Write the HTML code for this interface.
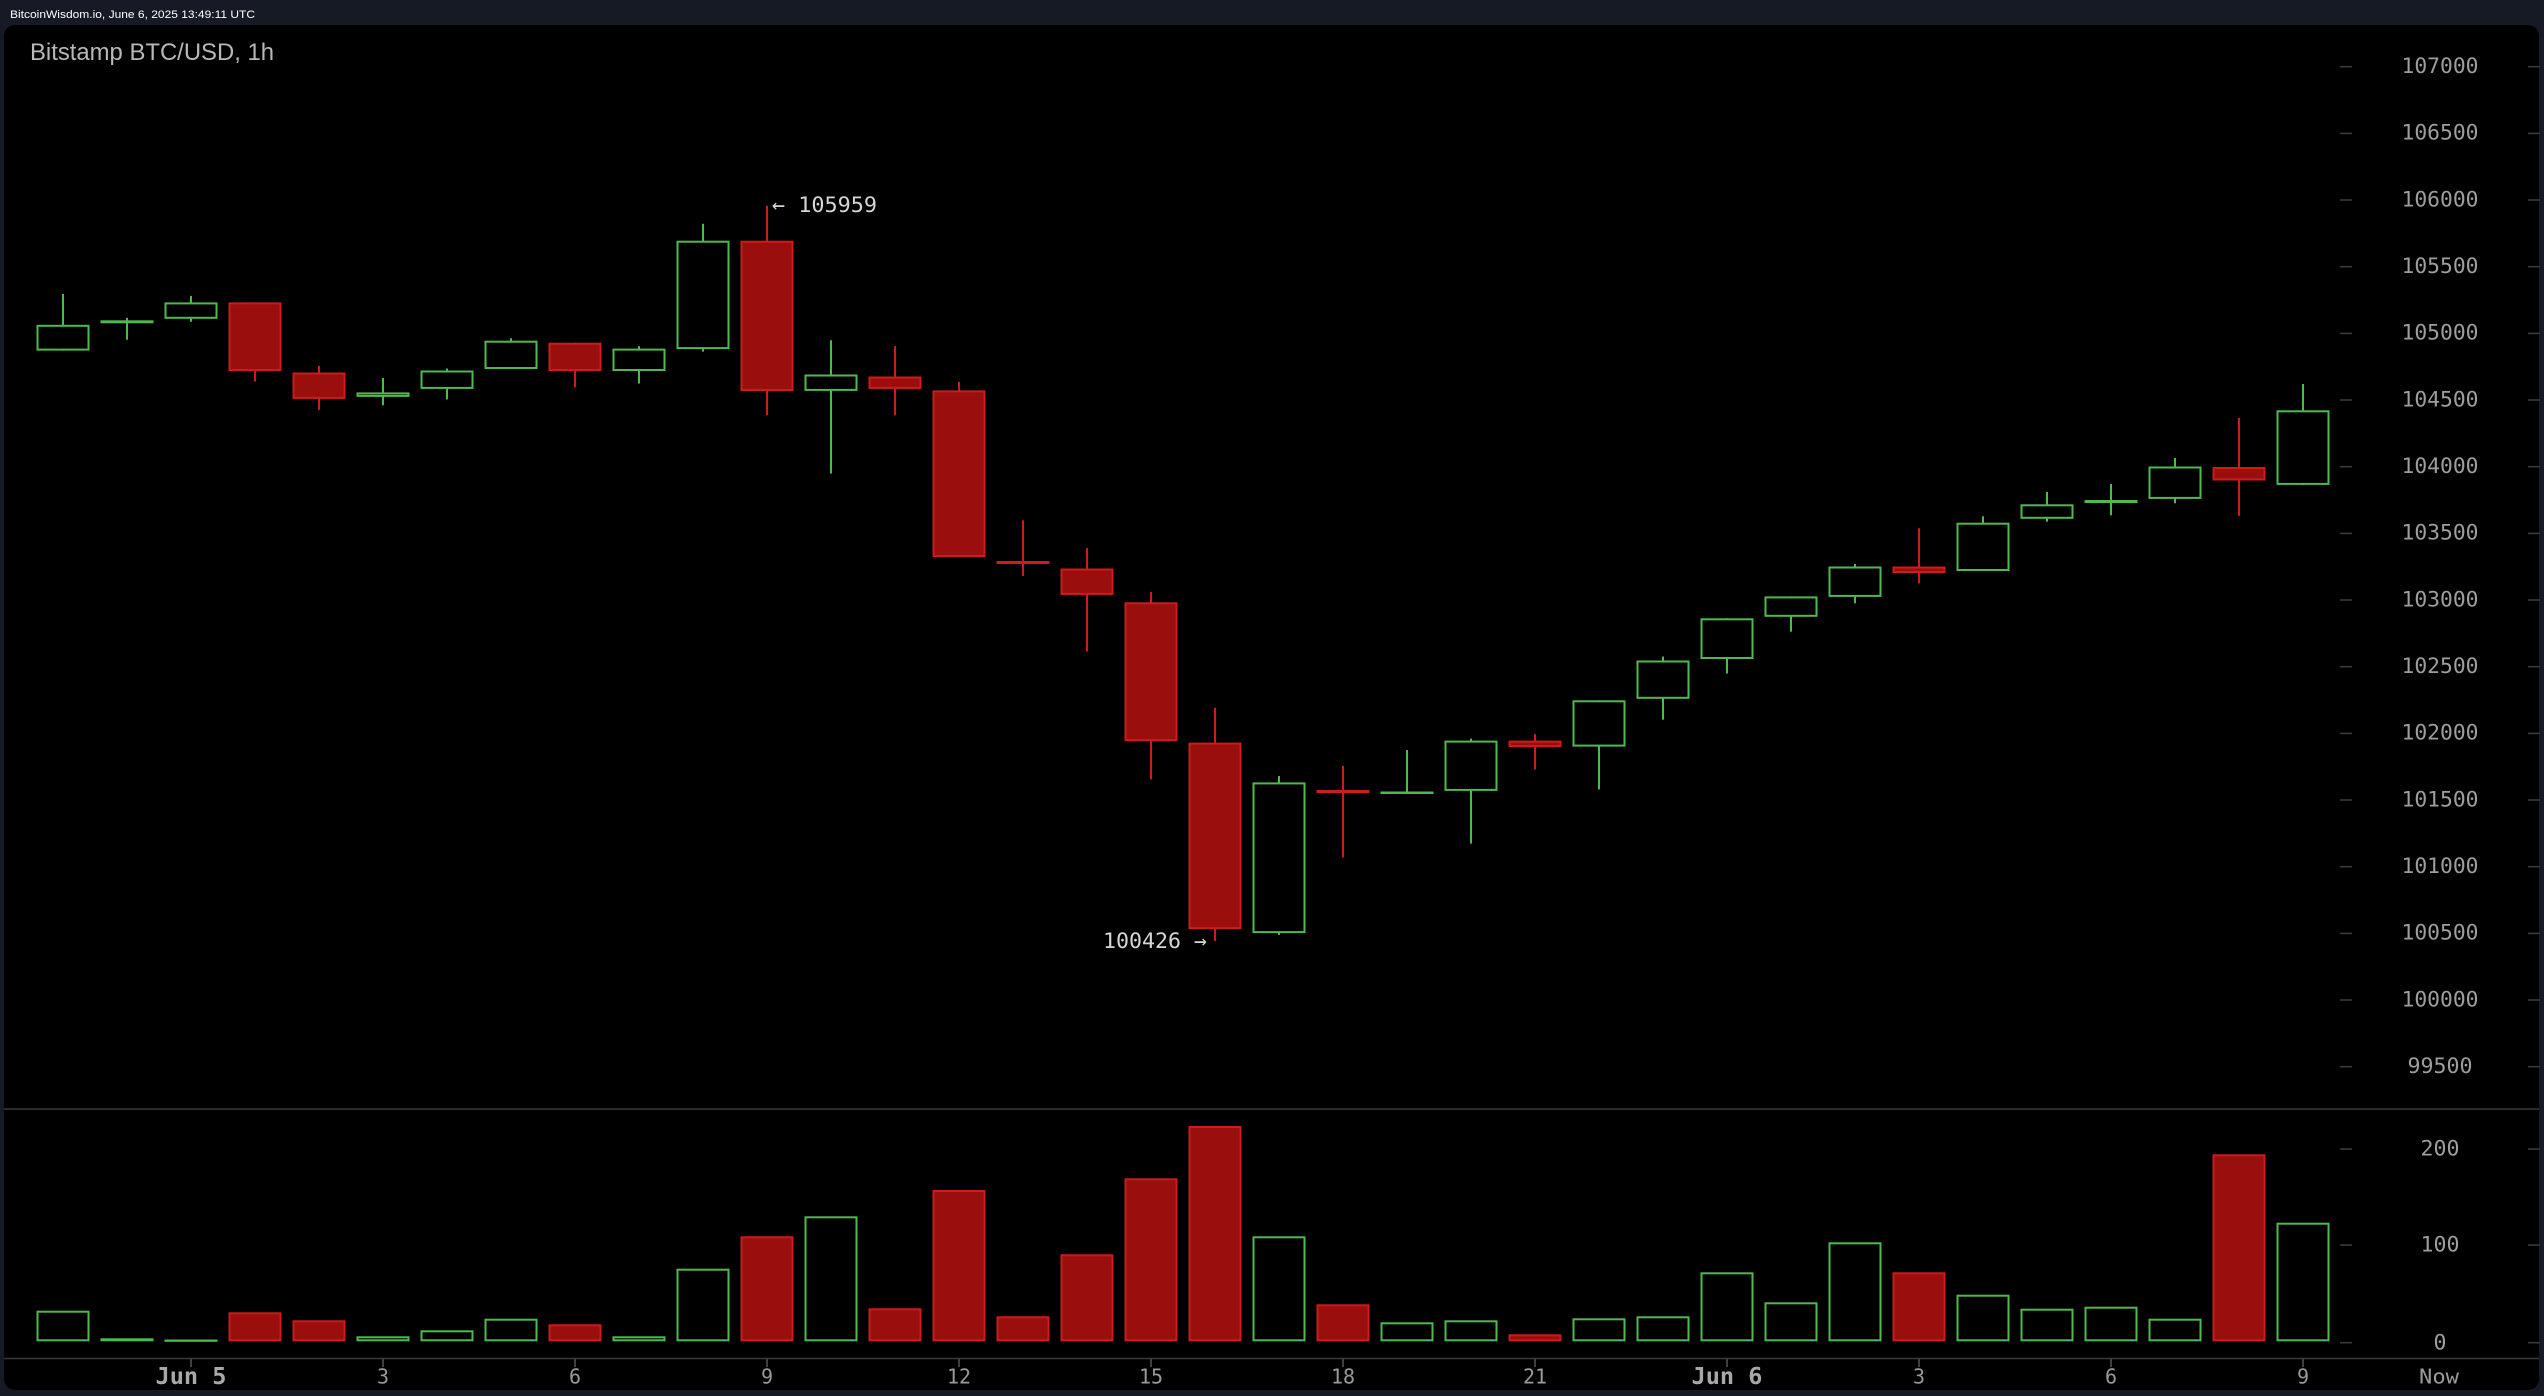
<!DOCTYPE html>
<html><head><meta charset="utf-8"><style>
html,body{margin:0;padding:0;background:#161a24;}
svg{display:block;}
</style></head><body>
<svg width="2544" height="1396" viewBox="0 0 2544 1396" xmlns="http://www.w3.org/2000/svg">
<rect x="0" y="0" width="2544" height="1396" fill="#161a24"/>
<text x="10" y="18" font-family="Liberation Sans, sans-serif" font-size="11" fill="#ffffff" textLength="245" lengthAdjust="spacingAndGlyphs">BitcoinWisdom.io, June 6, 2025 13:49:11 UTC</text>
<rect x="4" y="25" width="2535" height="1365" rx="11" ry="11" fill="#000000"/>
<text x="30" y="60" font-family="Liberation Sans, sans-serif" font-size="24" fill="#b8b8b8" textLength="244" lengthAdjust="spacingAndGlyphs">Bitstamp BTC/USD, 1h</text>

<!-- separators -->
<line x1="4" y1="1109" x2="2539" y2="1109" stroke="#3a3a3a" stroke-width="1.6"/>
<line x1="4" y1="1358.5" x2="2539" y2="1358.5" stroke="#3a3a3a" stroke-width="1.6"/>

<!-- price axis -->
<g stroke="#3d3d3d" stroke-width="1.5">
<line x1="2340" y1="66.7" x2="2352" y2="66.7"/><line x1="2528" y1="66.7" x2="2540" y2="66.7"/>
<line x1="2340" y1="133.4" x2="2352" y2="133.4"/><line x1="2528" y1="133.4" x2="2540" y2="133.4"/>
<line x1="2340" y1="200" x2="2352" y2="200"/><line x1="2528" y1="200" x2="2540" y2="200"/>
<line x1="2340" y1="266.7" x2="2352" y2="266.7"/><line x1="2528" y1="266.7" x2="2540" y2="266.7"/>
<line x1="2340" y1="333.4" x2="2352" y2="333.4"/><line x1="2528" y1="333.4" x2="2540" y2="333.4"/>
<line x1="2340" y1="400" x2="2352" y2="400"/><line x1="2528" y1="400" x2="2540" y2="400"/>
<line x1="2340" y1="466.7" x2="2352" y2="466.7"/><line x1="2528" y1="466.7" x2="2540" y2="466.7"/>
<line x1="2340" y1="533.4" x2="2352" y2="533.4"/><line x1="2528" y1="533.4" x2="2540" y2="533.4"/>
<line x1="2340" y1="600" x2="2352" y2="600"/><line x1="2528" y1="600" x2="2540" y2="600"/>
<line x1="2340" y1="666.7" x2="2352" y2="666.7"/><line x1="2528" y1="666.7" x2="2540" y2="666.7"/>
<line x1="2340" y1="733.4" x2="2352" y2="733.4"/><line x1="2528" y1="733.4" x2="2540" y2="733.4"/>
<line x1="2340" y1="800" x2="2352" y2="800"/><line x1="2528" y1="800" x2="2540" y2="800"/>
<line x1="2340" y1="866.7" x2="2352" y2="866.7"/><line x1="2528" y1="866.7" x2="2540" y2="866.7"/>
<line x1="2340" y1="933.4" x2="2352" y2="933.4"/><line x1="2528" y1="933.4" x2="2540" y2="933.4"/>
<line x1="2340" y1="1000" x2="2352" y2="1000"/><line x1="2528" y1="1000" x2="2540" y2="1000"/>
<line x1="2340" y1="1066.7" x2="2352" y2="1066.7"/><line x1="2528" y1="1066.7" x2="2540" y2="1066.7"/>
<line x1="2340" y1="1149" x2="2352" y2="1149"/><line x1="2528" y1="1149" x2="2540" y2="1149"/>
<line x1="2340" y1="1245" x2="2352" y2="1245"/><line x1="2528" y1="1245" x2="2540" y2="1245"/>
<line x1="2340" y1="1342.7" x2="2352" y2="1342.7"/><line x1="2528" y1="1342.7" x2="2540" y2="1342.7"/>
</g>
<g font-family="DejaVu Sans Mono, Liberation Mono, monospace" font-size="21.5" fill="#9e9e9e" text-anchor="middle">
<text x="2440" y="73" textLength="77" lengthAdjust="spacingAndGlyphs">107000</text>
<text x="2440" y="139.7" textLength="77" lengthAdjust="spacingAndGlyphs">106500</text>
<text x="2440" y="206.3" textLength="77" lengthAdjust="spacingAndGlyphs">106000</text>
<text x="2440" y="273" textLength="77" lengthAdjust="spacingAndGlyphs">105500</text>
<text x="2440" y="339.7" textLength="77" lengthAdjust="spacingAndGlyphs">105000</text>
<text x="2440" y="406.3" textLength="77" lengthAdjust="spacingAndGlyphs">104500</text>
<text x="2440" y="473" textLength="77" lengthAdjust="spacingAndGlyphs">104000</text>
<text x="2440" y="539.7" textLength="77" lengthAdjust="spacingAndGlyphs">103500</text>
<text x="2440" y="606.3" textLength="77" lengthAdjust="spacingAndGlyphs">103000</text>
<text x="2440" y="673" textLength="77" lengthAdjust="spacingAndGlyphs">102500</text>
<text x="2440" y="739.7" textLength="77" lengthAdjust="spacingAndGlyphs">102000</text>
<text x="2440" y="806.3" textLength="77" lengthAdjust="spacingAndGlyphs">101500</text>
<text x="2440" y="873" textLength="77" lengthAdjust="spacingAndGlyphs">101000</text>
<text x="2440" y="939.7" textLength="77" lengthAdjust="spacingAndGlyphs">100500</text>
<text x="2440" y="1006.3" textLength="77" lengthAdjust="spacingAndGlyphs">100000</text>
<text x="2440" y="1073" textLength="65" lengthAdjust="spacingAndGlyphs">99500</text>
<text x="2440" y="1155.5" textLength="39" lengthAdjust="spacingAndGlyphs">200</text>
<text x="2440" y="1251.5" textLength="39" lengthAdjust="spacingAndGlyphs">100</text>
<text x="2440" y="1349.5">0</text>
</g>

<!-- annotations -->
<g font-family="DejaVu Sans Mono, Liberation Mono, monospace" font-size="21.5" fill="#d6d6d6">
<text x="772" y="212" textLength="105" lengthAdjust="spacingAndGlyphs">← 105959</text>
<text x="1103" y="948" textLength="104" lengthAdjust="spacingAndGlyphs">100426 →</text>
</g>

<!-- candles -->
<g stroke-width="2">
<!-- 0 -->
<line x1="63" y1="293.9" x2="63" y2="350.6" stroke="#50b84f"/><rect x="37.5" y="325.8" width="51" height="23.8" fill="#000" stroke="#50b84f"/>
<!-- 1 -->
<line x1="127" y1="317.8" x2="127" y2="339.7" stroke="#50b84f"/><rect x="101.5" y="321.3" width="51" height="1" fill="#50b84f" stroke="#50b84f"/>
<!-- 2 -->
<line x1="191" y1="295.9" x2="191" y2="321.8" stroke="#50b84f"/><rect x="165.5" y="303.4" width="51" height="14.4" fill="#000" stroke="#50b84f"/>
<!-- 3 -->
<line x1="255" y1="302.4" x2="255" y2="381.5" stroke="#cc1c1c"/><rect x="229.5" y="303.4" width="51" height="66.6" fill="#9a0e0e" stroke="#cc1c1c"/>
<!-- 4 -->
<line x1="319" y1="366" x2="319" y2="409.8" stroke="#cc1c1c"/><rect x="293.5" y="373.5" width="51" height="24.4" fill="#9a0e0e" stroke="#cc1c1c"/>
<!-- 5 -->
<line x1="383" y1="378" x2="383" y2="405.3" stroke="#50b84f"/><rect x="357.5" y="393.4" width="51" height="2.5" fill="#000" stroke="#50b84f"/>
<!-- 6 -->
<line x1="447" y1="368.5" x2="447" y2="399.4" stroke="#50b84f"/><rect x="421.5" y="371.5" width="51" height="16.4" fill="#000" stroke="#50b84f"/>
<!-- 7 -->
<line x1="511" y1="338.2" x2="511" y2="369" stroke="#50b84f"/><rect x="485.5" y="341.7" width="51" height="26.3" fill="#000" stroke="#50b84f"/>
<!-- 8 -->
<line x1="575" y1="342.7" x2="575" y2="387.4" stroke="#cc1c1c"/><rect x="549.5" y="343.7" width="51" height="26.3" fill="#9a0e0e" stroke="#cc1c1c"/>
<!-- 9 -->
<line x1="639" y1="346.1" x2="639" y2="383.5" stroke="#50b84f"/><rect x="613.5" y="349.6" width="51" height="20.4" fill="#000" stroke="#50b84f"/>
<!-- 10 -->
<line x1="703" y1="223.8" x2="703" y2="351.6" stroke="#50b84f"/><rect x="677.5" y="241.7" width="51" height="106.4" fill="#000" stroke="#50b84f"/>
<!-- 11 -->
<line x1="767" y1="205.9" x2="767" y2="415.3" stroke="#cc1c1c"/><rect x="741.5" y="241.7" width="51" height="148.3" fill="#9a0e0e" stroke="#cc1c1c"/>
<!-- 12 -->
<line x1="831" y1="340.2" x2="831" y2="473.5" stroke="#50b84f"/><rect x="805.5" y="375.5" width="51" height="14.4" fill="#000" stroke="#50b84f"/>
<!-- 13 -->
<line x1="895" y1="346.1" x2="895" y2="415.3" stroke="#cc1c1c"/><rect x="869.5" y="377.5" width="51" height="10.4" fill="#9a0e0e" stroke="#cc1c1c"/>
<!-- 14 -->
<line x1="959" y1="382" x2="959" y2="557" stroke="#cc1c1c"/><rect x="933.5" y="391.4" width="51" height="164.6" fill="#9a0e0e" stroke="#cc1c1c"/>
<!-- 15 -->
<line x1="1023" y1="520.3" x2="1023" y2="576" stroke="#cc1c1c"/><rect x="997.5" y="562" width="51" height="1" fill="#9a0e0e" stroke="#cc1c1c"/>
<!-- 16 -->
<line x1="1087" y1="548.1" x2="1087" y2="651.6" stroke="#cc1c1c"/><rect x="1061.5" y="569.5" width="51" height="24.4" fill="#9a0e0e" stroke="#cc1c1c"/>
<!-- 17 -->
<line x1="1151" y1="591.9" x2="1151" y2="779.4" stroke="#cc1c1c"/><rect x="1125.5" y="603.3" width="51" height="136.8" fill="#9a0e0e" stroke="#cc1c1c"/>
<!-- 18 -->
<line x1="1215" y1="707.8" x2="1215" y2="941.1" stroke="#cc1c1c"/><rect x="1189.5" y="743.6" width="51" height="184.5" fill="#9a0e0e" stroke="#cc1c1c"/>
<!-- 19 -->
<line x1="1279" y1="776" x2="1279" y2="935" stroke="#50b84f"/><rect x="1253.5" y="783.4" width="51" height="148.7" fill="#000" stroke="#50b84f"/>
<!-- 20 -->
<line x1="1343" y1="766" x2="1343" y2="857.5" stroke="#cc1c1c"/><rect x="1317.5" y="791" width="51" height="1" fill="#cc1c1c" stroke="#cc1c1c"/>
<!-- 21 -->
<line x1="1407" y1="750" x2="1407" y2="794" stroke="#50b84f"/><rect x="1381.5" y="792.5" width="51" height="0.5" fill="#50b84f" stroke="#50b84f"/>
<!-- 22 -->
<line x1="1471" y1="738.6" x2="1471" y2="843.6" stroke="#50b84f"/><rect x="1445.5" y="741.6" width="51" height="48.3" fill="#000" stroke="#50b84f"/>
<!-- 23 -->
<line x1="1535" y1="734.2" x2="1535" y2="769.5" stroke="#cc1c1c"/><rect x="1509.5" y="741.6" width="51" height="4.5" fill="#9a0e0e" stroke="#cc1c1c"/>
<!-- 24 -->
<line x1="1599" y1="700.3" x2="1599" y2="789.4" stroke="#50b84f"/><rect x="1573.5" y="701.3" width="51" height="44.3" fill="#000" stroke="#50b84f"/>
<!-- 25 -->
<line x1="1663" y1="656.5" x2="1663" y2="719.7" stroke="#50b84f"/><rect x="1637.5" y="661.5" width="51" height="36.3" fill="#000" stroke="#50b84f"/>
<!-- 26 -->
<line x1="1727" y1="618.3" x2="1727" y2="673.5" stroke="#50b84f"/><rect x="1701.5" y="619.3" width="51" height="38.7" fill="#000" stroke="#50b84f"/>
<!-- 27 -->
<line x1="1791" y1="596.4" x2="1791" y2="631.7" stroke="#50b84f"/><rect x="1765.5" y="597.4" width="51" height="18.4" fill="#000" stroke="#50b84f"/>
<!-- 28 -->
<line x1="1855" y1="564" x2="1855" y2="603.3" stroke="#50b84f"/><rect x="1829.5" y="567.5" width="51" height="28.4" fill="#000" stroke="#50b84f"/>
<!-- 29 -->
<line x1="1919" y1="528.2" x2="1919" y2="583.4" stroke="#cc1c1c"/><rect x="1893.5" y="567.5" width="51" height="4.5" fill="#9a0e0e" stroke="#cc1c1c"/>
<!-- 30 -->
<line x1="1983" y1="516.3" x2="1983" y2="571" stroke="#50b84f"/><rect x="1957.5" y="523.7" width="51" height="46.3" fill="#000" stroke="#50b84f"/>
<!-- 31 -->
<line x1="2047" y1="491.9" x2="2047" y2="521.7" stroke="#50b84f"/><rect x="2021.5" y="505.3" width="51" height="12.5" fill="#000" stroke="#50b84f"/>
<!-- 32 -->
<line x1="2111" y1="484" x2="2111" y2="515.3" stroke="#50b84f"/><rect x="2085.5" y="501" width="51" height="1" fill="#50b84f" stroke="#50b84f"/>
<!-- 33 -->
<line x1="2175" y1="458" x2="2175" y2="503.3" stroke="#50b84f"/><rect x="2149.5" y="467.5" width="51" height="30.4" fill="#000" stroke="#50b84f"/>
<!-- 34 -->
<line x1="2239" y1="417.8" x2="2239" y2="515.8" stroke="#cc1c1c"/><rect x="2213.5" y="468" width="51" height="11.5" fill="#9a0e0e" stroke="#cc1c1c"/>
<!-- 35 -->
<line x1="2303" y1="384" x2="2303" y2="484.9" stroke="#50b84f"/><rect x="2277.5" y="411.3" width="51" height="72.6" fill="#000" stroke="#50b84f"/>
</g>

<!-- volume -->
<g stroke-width="2">
<rect x="37.5" y="1311.7" width="51" height="28.6" fill="#000" stroke="#50b84f"/>
<rect x="101.5" y="1339.3" width="51" height="1" fill="#50b84f" stroke="#50b84f"/>
<rect x="165.5" y="1340.5" width="51" height="0.3" fill="#50b84f" stroke="#50b84f"/>
<rect x="229.5" y="1313.3" width="51" height="27" fill="#9a0e0e" stroke="#cc1c1c"/>
<rect x="293.5" y="1321.3" width="51" height="19" fill="#9a0e0e" stroke="#cc1c1c"/>
<rect x="357.5" y="1337.3" width="51" height="3" fill="#000" stroke="#50b84f"/>
<rect x="421.5" y="1331.3" width="51" height="9" fill="#000" stroke="#50b84f"/>
<rect x="485.5" y="1319.7" width="51" height="20.6" fill="#000" stroke="#50b84f"/>
<rect x="549.5" y="1325.3" width="51" height="15" fill="#9a0e0e" stroke="#cc1c1c"/>
<rect x="613.5" y="1337.3" width="51" height="3" fill="#000" stroke="#50b84f"/>
<rect x="677.5" y="1269.7" width="51" height="70.6" fill="#000" stroke="#50b84f"/>
<rect x="741.5" y="1237.3" width="51" height="103" fill="#9a0e0e" stroke="#cc1c1c"/>
<rect x="805.5" y="1217.3" width="51" height="123" fill="#000" stroke="#50b84f"/>
<rect x="869.5" y="1309.3" width="51" height="31" fill="#9a0e0e" stroke="#cc1c1c"/>
<rect x="933.5" y="1191" width="51" height="149.3" fill="#9a0e0e" stroke="#cc1c1c"/>
<rect x="997.5" y="1317.3" width="51" height="23" fill="#9a0e0e" stroke="#cc1c1c"/>
<rect x="1061.5" y="1255.3" width="51" height="85" fill="#9a0e0e" stroke="#cc1c1c"/>
<rect x="1125.5" y="1179.3" width="51" height="161" fill="#9a0e0e" stroke="#cc1c1c"/>
<rect x="1189.5" y="1127" width="51" height="213.3" fill="#9a0e0e" stroke="#cc1c1c"/>
<rect x="1253.5" y="1237.3" width="51" height="103" fill="#000" stroke="#50b84f"/>
<rect x="1317.5" y="1305.3" width="51" height="35" fill="#9a0e0e" stroke="#cc1c1c"/>
<rect x="1381.5" y="1323.3" width="51" height="17" fill="#000" stroke="#50b84f"/>
<rect x="1445.5" y="1321.3" width="51" height="19" fill="#000" stroke="#50b84f"/>
<rect x="1509.5" y="1335.3" width="51" height="5" fill="#9a0e0e" stroke="#cc1c1c"/>
<rect x="1573.5" y="1319.3" width="51" height="21" fill="#000" stroke="#50b84f"/>
<rect x="1637.5" y="1317.3" width="51" height="23" fill="#000" stroke="#50b84f"/>
<rect x="1701.5" y="1273.3" width="51" height="67" fill="#000" stroke="#50b84f"/>
<rect x="1765.5" y="1303.3" width="51" height="37" fill="#000" stroke="#50b84f"/>
<rect x="1829.5" y="1243.3" width="51" height="97" fill="#000" stroke="#50b84f"/>
<rect x="1893.5" y="1273.3" width="51" height="67" fill="#9a0e0e" stroke="#cc1c1c"/>
<rect x="1957.5" y="1295.7" width="51" height="44.6" fill="#000" stroke="#50b84f"/>
<rect x="2021.5" y="1309.7" width="51" height="30.6" fill="#000" stroke="#50b84f"/>
<rect x="2085.5" y="1307.7" width="51" height="32.6" fill="#000" stroke="#50b84f"/>
<rect x="2149.5" y="1319.7" width="51" height="20.6" fill="#000" stroke="#50b84f"/>
<rect x="2213.5" y="1155.3" width="51" height="185" fill="#9a0e0e" stroke="#cc1c1c"/>
<rect x="2277.5" y="1223.7" width="51" height="116.6" fill="#000" stroke="#50b84f"/>
</g>

<!-- time axis ticks -->
<g stroke="#555" stroke-width="1.5">
<line x1="191" y1="1359" x2="191" y2="1367"/>
<line x1="383" y1="1359" x2="383" y2="1367"/>
<line x1="575" y1="1359" x2="575" y2="1367"/>
<line x1="767" y1="1359" x2="767" y2="1367"/>
<line x1="959" y1="1359" x2="959" y2="1367"/>
<line x1="1151" y1="1359" x2="1151" y2="1367"/>
<line x1="1343" y1="1359" x2="1343" y2="1367"/>
<line x1="1535" y1="1359" x2="1535" y2="1367"/>
<line x1="1727" y1="1359" x2="1727" y2="1367"/>
<line x1="1919" y1="1359" x2="1919" y2="1367"/>
<line x1="2111" y1="1359" x2="2111" y2="1367"/>
<line x1="2303" y1="1359" x2="2303" y2="1367"/>
</g>
<g font-family="DejaVu Sans Mono, Liberation Mono, monospace" fill="#9a9a9a" text-anchor="middle">
<text x="191" y="1384" font-size="23.5" font-weight="bold" fill="#a8a8a8" textLength="71" lengthAdjust="spacingAndGlyphs">Jun 5</text>
<text x="383" y="1383.3" font-size="20">3</text>
<text x="575" y="1383.3" font-size="20">6</text>
<text x="767" y="1383.3" font-size="20">9</text>
<text x="959" y="1383.3" font-size="20">12</text>
<text x="1151" y="1383.3" font-size="20">15</text>
<text x="1343" y="1383.3" font-size="20">18</text>
<text x="1535" y="1383.3" font-size="20">21</text>
<text x="1727" y="1384" font-size="23.5" font-weight="bold" fill="#a8a8a8" textLength="71" lengthAdjust="spacingAndGlyphs">Jun 6</text>
<text x="1919" y="1383.3" font-size="20">3</text>
<text x="2111" y="1383.3" font-size="20">6</text>
<text x="2303" y="1383.3" font-size="20">9</text>
<text x="2439" y="1383.3" font-size="20" textLength="40" lengthAdjust="spacingAndGlyphs">Now</text>
</g>
</svg>
</body></html>
